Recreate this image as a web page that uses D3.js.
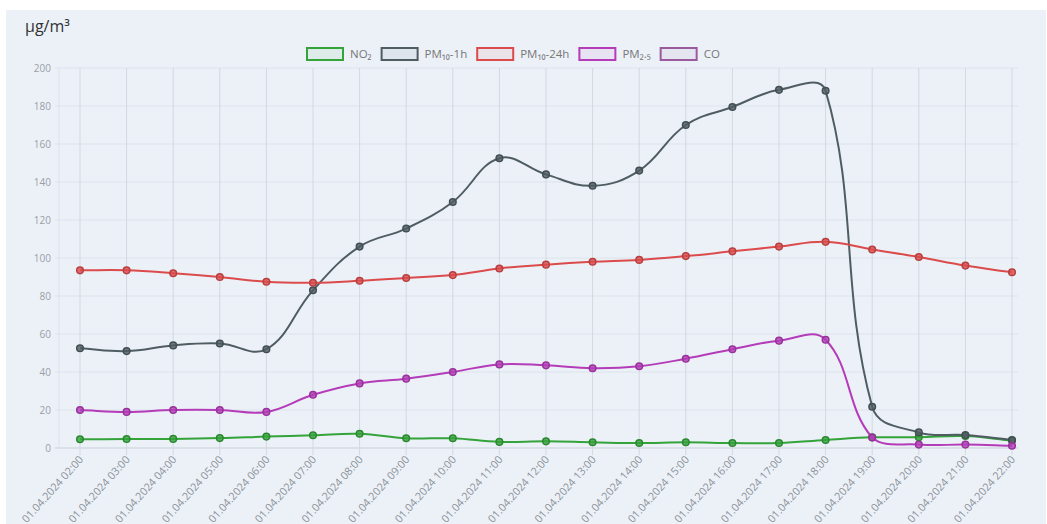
<!DOCTYPE html>
<html><head><meta charset="utf-8">
<script src="https://cdn.jsdelivr.net/npm/d3@7"></script>
<style>body{margin:0;background:#fff}svg{display:block;font-family:"Open Sans",sans-serif}</style>
</head><body>
<svg id="c" width="1047" height="524"></svg>
<script>
const categories = ["01.04.2024 02:00","01.04.2024 03:00","01.04.2024 04:00","01.04.2024 05:00","01.04.2024 06:00","01.04.2024 07:00","01.04.2024 08:00","01.04.2024 09:00","01.04.2024 10:00","01.04.2024 11:00","01.04.2024 12:00","01.04.2024 13:00","01.04.2024 14:00","01.04.2024 15:00","01.04.2024 16:00","01.04.2024 17:00","01.04.2024 18:00","01.04.2024 19:00","01.04.2024 20:00","01.04.2024 21:00","01.04.2024 22:00"];
const no2      = [4.6, 4.7, 4.8, 5.2, 6.0, 6.7, 7.5, 5.1, 5.1, 3.2, 3.5, 3.0, 2.6, 3.0, 2.6, 2.6, 4.2, 5.6, 5.7, 6.3, 3.9];
const pm10_1h  = [52.5, 51, 54, 55, 52, 83, 106, 115.5, 129.5, 152.5, 144, 138, 146, 170, 179.5, 188.5, 188, 21.7, 8.2, 6.8, 4.2];
const pm10_24h = [93.5, 93.5, 92, 90, 87.5, 87, 88, 89.5, 91, 94.5, 96.5, 98, 99, 101, 103.5, 106, 108.5, 104.5, 100.5, 96, 92.5];
const pm25     = [20, 19, 20, 20, 19, 28, 34, 36.5, 40, 44, 43.5, 42, 43, 47, 52, 56.5, 57, 5.5, 1.8, 1.8, 1.2];
const co       = [];
const yTicks = [0, 20, 40, 60, 80, 100, 120, 140, 160, 180, 200];
const seriesNames  = ["NO₂", "PM₁₀-1h", "PM₁₀-24h", "PM₂.₅", "CO"];
const seriesColors = ["#33a33a", "#4f5d62", "#dc4b4b", "#b43cb8", "#9a5a9e"];
const seriesData   = [no2, pm10_1h, pm10_24h, pm25, co];
const unitLabel = "µg/m³";

const svg = d3.select("#c");
const W = 1047, H = 524;
const area = {left: 55, right: 1018, top: 68, bottom: 448};

svg.append("rect").attr("width", W).attr("height", H).attr("fill", "#ffffff");
svg.append("rect").attr("x", 6).attr("y", 10).attr("width", W - 7).attr("height", H - 10).attr("fill", "#ecf1f8");

const x = d3.scalePoint().domain(categories).range([80, 1012]);
const y = d3.scaleLinear().domain([0, 200]).range([area.bottom, area.top]);

// Chart.js-like bezier spline (tension 0.4)
function ChartJsCurve(context) { this._context = context; }
ChartJsCurve.prototype = {
  areaStart() {}, areaEnd() {},
  lineStart() { this._pts = []; },
  point(px, py) { this._pts.push([+px, +py]); },
  lineEnd() {
    const p = this._pts, c = this._context, t = 0.4, n = p.length;
    if (!n) return;
    const cl = (v, a, b) => Math.max(a, Math.min(b, v));
    const cps = p.map((cur, i) => {
      const prev = p[i - 1] || cur, next = p[i + 1] || cur;
      const d01 = Math.hypot(cur[0] - prev[0], cur[1] - prev[1]);
      const d12 = Math.hypot(next[0] - cur[0], next[1] - cur[1]);
      let s01 = d01 / (d01 + d12), s12 = d12 / (d01 + d12);
      if (!isFinite(s01)) s01 = 0; if (!isFinite(s12)) s12 = 0;
      const fa = t * s01, fb = t * s12;
      return {
        px: cur[0] - fa * (next[0] - prev[0]), py: cl(cur[1] - fa * (next[1] - prev[1]), area.top, area.bottom),
        nx: cur[0] + fb * (next[0] - prev[0]), ny: cl(cur[1] + fb * (next[1] - prev[1]), area.top, area.bottom)
      };
    });
    c.moveTo(p[0][0], p[0][1]);
    for (let i = 1; i < n; i++) c.bezierCurveTo(cps[i - 1].nx, cps[i - 1].ny, cps[i].px, cps[i].py, p[i][0], p[i][1]);
  }
};
const chartCurve = ctx => new ChartJsCurve(ctx);

// grid
const grid = svg.append("g");
grid.selectAll("line.h").data(yTicks).join("line")
  .attr("x1", area.left).attr("x2", area.right)
  .attr("y1", d => y(d)).attr("y2", d => y(d))
  .attr("stroke", d => d === 0 ? "#c9ced6" : "#dde2ea").attr("stroke-width", 1);
grid.append("line").attr("x1", 59).attr("x2", 59).attr("y1", area.top).attr("y2", area.bottom)
  .attr("stroke", "#dde2ea");
grid.selectAll("line.v").data(categories).join("line")
  .attr("x1", d => x(d)).attr("x2", d => x(d))
  .attr("y1", area.top).attr("y2", area.bottom + 7)
  .attr("stroke", "#d3d8e0").attr("stroke-width", 1);

// y labels
svg.append("g").selectAll("text").data(yTicks).join("text")
  .attr("x", 51).attr("y", d => y(d) + 3.5)
  .attr("text-anchor", "end").attr("font-size", 10).attr("fill", "#9a9ea6")
  .text(d => d);

// x labels
svg.append("g").selectAll("text").data(categories).join("text")
  .attr("transform", d => `translate(${x(d) + 4},${area.bottom + 12}) rotate(-48)`)
  .attr("text-anchor", "end").attr("font-size", 10.8).attr("fill", "#8d9199")
  .text(d => d);

// series
const line = d3.line().x((d, i) => x(categories[i])).y(d => y(d)).curve(chartCurve);
seriesData.forEach((data, k) => {
  if (!data.length) return;
  const g = svg.append("g");
  g.append("path").datum(data).attr("d", line)
    .attr("fill", "none").attr("stroke", seriesColors[k]).attr("stroke-width", 2);
  g.selectAll("circle").data(data).join("circle")
    .attr("cx", (d, i) => x(categories[i])).attr("cy", d => y(d)).attr("r", 3.3)
    .attr("fill", seriesColors[k]).attr("fill-opacity", 0.8)
    .attr("stroke", d3.color(seriesColors[k]).darker(0.5)).attr("stroke-width", 1.5);
});

// title
svg.append("text").attr("x", 25).attr("y", 32).attr("font-size", 16).attr("fill", "#333")
  .text(unitLabel);

// legend
const lg = svg.append("g");
let lx = 307;
seriesNames.forEach((name, k) => {
  lg.append("rect").attr("x", lx).attr("y", 48).attr("width", 36).attr("height", 12)
    .attr("fill", d3.color(seriesColors[k]).copy({opacity: 0.08})).attr("stroke", seriesColors[k]).attr("stroke-width", 2);
  const t = lg.append("text").attr("x", lx + 43).attr("y", 58).attr("font-size", 11.5).attr("fill", "#777").text(name);
  lx += 43 + t.node().getComputedTextLength() + 10;
});
</script>
</body></html>
